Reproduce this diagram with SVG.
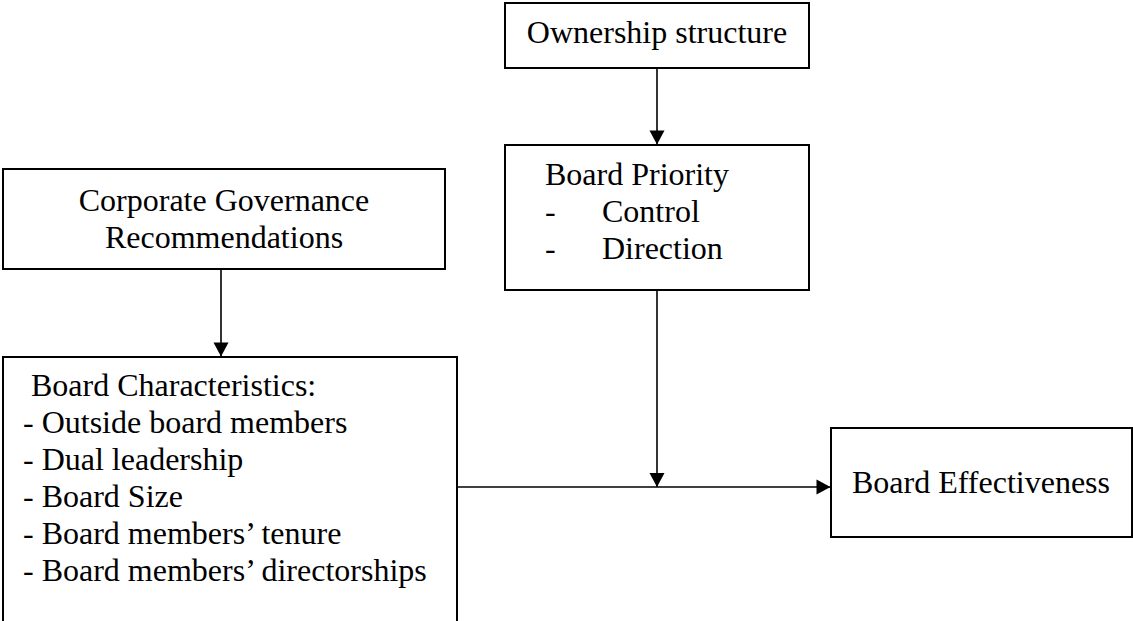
<svg xmlns="http://www.w3.org/2000/svg" width="1133" height="621" viewBox="0 0 1133 621">
<style>
.box{fill:#fff;stroke:#000;stroke-width:2}
.t{font-family:"Liberation Serif","Times New Roman",serif;font-size:32px;fill:#000}
.c{text-anchor:middle}
.ln{fill:none;stroke:#000;stroke-width:1.6}
</style>
<defs>
<marker id="ah" markerUnits="userSpaceOnUse" markerWidth="16" markerHeight="16" viewBox="0 0 14 16" refX="14" refY="8" orient="auto">
<path d="M0,0.5 L14,8 L0,15.5 Z" fill="#000"/>
</marker>
</defs>
<rect width="1133" height="621" fill="#fff"/>
<g id="connectors">
<line class="ln" x1="657" y1="68" x2="657" y2="144.5" marker-end="url(#ah)"/>
<line class="ln" x1="221" y1="269" x2="221" y2="356.5" marker-end="url(#ah)"/>
<line class="ln" x1="657" y1="290" x2="657" y2="487" marker-end="url(#ah)"/>
<line class="ln" x1="457" y1="487" x2="830.5" y2="487" marker-end="url(#ah)"/>
</g>
<g id="ownership">
<rect class="box" x="505" y="3" width="304" height="65"/>
<text class="t c" x="657" y="43">Ownership structure</text>
</g>
<g id="priority">
<rect class="box" x="505" y="145" width="304" height="145"/>
<text class="t" x="545" y="185">Board Priority</text>
<text class="t" x="545" y="222">-</text>
<text class="t" x="602" y="222">Control</text>
<text class="t" x="545" y="259">-</text>
<text class="t" x="602" y="259">Direction</text>
</g>
<g id="governance">
<rect class="box" x="3" y="169" width="442" height="100"/>
<text class="t c" x="224" y="211">Corporate Governance</text>
<text class="t c" x="224" y="248">Recommendations</text>
</g>
<g id="characteristics">
<rect class="box" x="3" y="357" width="454" height="300"/>
<text class="t" x="31" y="396">Board Characteristics:</text>
<text class="t" x="23" y="433">- Outside board members</text>
<text class="t" x="23" y="470">- Dual leadership</text>
<text class="t" x="23" y="507">- Board Size</text>
<text class="t" x="23" y="544">- Board members’ tenure</text>
<text class="t" x="23" y="581">- Board members’ directorships</text>
</g>
<g id="effectiveness">
<rect class="box" x="831" y="428" width="301" height="109"/>
<text class="t" x="852" y="493">Board Effectiveness</text>
</g>
</svg>
